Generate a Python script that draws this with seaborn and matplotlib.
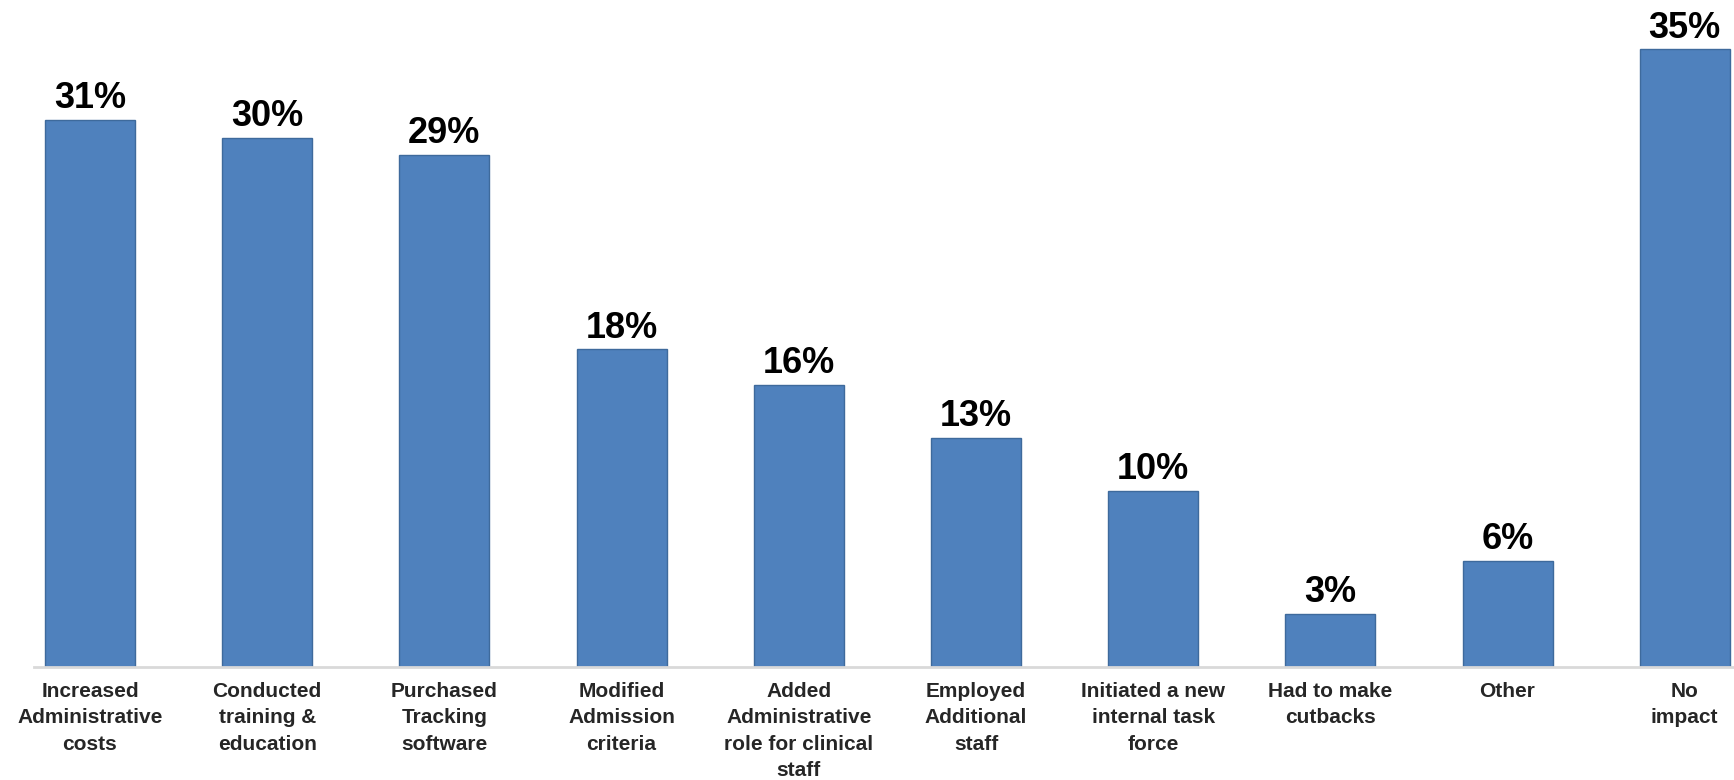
import matplotlib
matplotlib.use('Agg')
import matplotlib.pyplot as plt
import seaborn as sns
import pandas as pd

# Categories and percentages
categories = ['Increased\nAdministrative\ncosts', 'Conducted\ntraining &\neducation',
              'Purchased\nTracking\nsoftware', 'Modified\nAdmission\ncriteria',
              'Added\nAdministrative\nrole for clinical\nstaff', 'Employed\nAdditional\nstaff',
              'Initiated a new\ninternal task\nforce', 'Had to make\ncutbacks', 'Other', 'No\nimpact']
values = [31, 30, 29, 18, 16, 13, 10, 3, 6, 35]
value_labels = ['31%', '30%', '29%', '18%', '16%', '13%', '10%', '3%', '6%', '35%']

df = pd.DataFrame({'category': categories, 'value': values})

sns.set_style('white')
plt.rcParams['font.family'] = ['Liberation Sans', 'DejaVu Sans']
plt.rcParams['font.weight'] = 'bold'

fig = plt.figure(figsize=(17.34, 7.8), dpi=100)
ax = fig.add_axes([34 / 1734, (780 - 667) / 780, 1 - 34 / 1734, 667 / 780])

sns.barplot(data=df, x='category', y='value', color='#4F81BD', saturation=1,
            width=0.508, edgecolor='#3E6A9C', linewidth=1.0, ax=ax)

# Percent labels above each bar
for i, (v, lab) in enumerate(zip(values, value_labels)):
    ax.annotate(lab, (i, v), xytext=(0, 8.5), textcoords='offset points',
                ha='center', va='baseline', fontsize=26, fontweight='bold', color='black')

ax.set_xlim(-0.316, 9.278)
ax.set_ylim(0, 37.8)
ax.set_xlabel('')
ax.set_ylabel('')
ax.set_yticks([])
ax.tick_params(axis='x', length=0, pad=11)
for t in ax.get_xticklabels():
    t.set_fontsize(15)
    t.set_fontweight('bold')
    t.set_color('#262626')
    t.set_linespacing(1.48)
    t.set_verticalalignment('top')

for s in ['top', 'right', 'left']:
    ax.spines[s].set_visible(False)
ax.spines['bottom'].set_color('#D9D9D9')
ax.spines['bottom'].set_linewidth(2)

fig.savefig('out.png', dpi=100)
